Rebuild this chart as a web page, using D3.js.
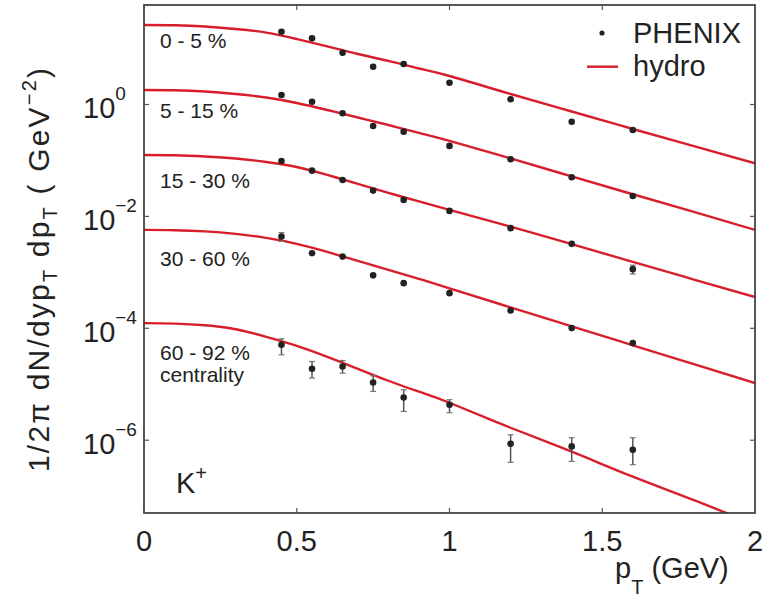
<!DOCTYPE html>
<html>
<head>
<meta charset="utf-8">
<script src="https://cdn.jsdelivr.net/npm/d3@7"></script>
<style>
  body { margin: 0; background: #fff; }
  svg { display: block; font-family: "Liberation Sans", Arial, sans-serif; }
</style>
</head>
<body>
<svg id="chart" width="773" height="597"></svg>
<script>
// K+ transverse-momentum spectra, PHENIX points vs. hydro curves (GeV units)
const ptData = [0.45, 0.55, 0.65, 0.75, 0.85, 1.0, 1.2, 1.4, 1.6];
const ptHydro = [0, 0.1, 0.2, 0.3, 0.4, 0.5, 0.6, 0.7, 0.8, 0.9, 1.0, 1.2, 1.4, 1.6, 1.8, 2.0];
const centralityLabels = ["0 - 5 %", "5 - 15 %", "15 - 30 %", "30 - 60 %", "60 - 92 %"];

// PHENIX yields per centrality class
const phenix_0_5   = [19.9, 15.2, 8.41, 4.73, 5.29, 2.45, 1.24, 0.493, 0.350];
const phenix_5_15  = [1.478, 1.122, 0.697, 0.413, 0.327, 0.182, 0.105, 0.0501, 0.0232];
const phenix_15_30 = [0.098, 0.0657, 0.0448, 0.0289, 0.0197, 0.01253, 0.00616, 0.00323, 0.00114];
const phenix_30_60 = [0.00436, 0.0022, 0.00191, 0.000884, 0.000641, 0.000425, 0.000208, 0.0001008, 0.0000544];
const phenix_60_92 = [5.07e-5, 1.89e-5, 2.08e-5, 1.076e-5, 5.81e-6, 4.30e-6, 8.66e-7, 7.75e-7, 6.77e-7];

// relative uncertainties for the central classes
const relErr_0_5   = [0.08, 0.08, 0.08, 0.1, 0.08, 0.08, 0.08, 0.1, 0.1];
const relErr_5_15  = [0.08, 0.08, 0.08, 0.1, 0.08, 0.08, 0.08, 0.1, 0.1];
const relErr_15_30 = [0.08, 0.08, 0.08, 0.1, 0.1, 0.08, 0.1, 0.1, 0.18];
const relErr_30_60 = [0.18, 0.1, 0.1, 0.12, 0.12, 0.1, 0.1, 0.1, 0.12];
// explicit error bounds for the peripheral class
const low_60_92  = [3.36e-5, 1.29e-5, 1.58e-5, 7.44e-6, 3.27e-6, 3.10e-6, 4.01e-7, 4.18e-7, 3.65e-7];
const high_60_92 = [6.49e-5, 2.55e-5, 2.66e-5, 1.418e-5, 7.97e-6, 5.29e-6, 1.253e-6, 1.108e-6, 1.108e-6];

// hydro predictions per centrality class on the ptHydro grid
const hydro_0_5   = [26.3, 26.0, 24.7, 22.3, 19.3, 14.8, 10.9, 8.0, 6.0, 4.4, 3.23, 1.54, 0.75, 0.365, 0.18, 0.089];
const hydro_5_15  = [1.815, 1.793, 1.707, 1.54, 1.334, 1.064, 0.798, 0.586, 0.43, 0.31, 0.223, 0.1086, 0.0518, 0.0249, 0.01203, 0.00574];
const hydro_15_30 = [0.1253, 0.1238, 0.1179, 0.1086, 0.094, 0.0765, 0.0551, 0.038, 0.0263, 0.01853, 0.01306, 0.00657, 0.00319, 0.00154, 0.000744, 0.000361];
const hydro_30_60 = [0.00574, 0.00567, 0.0054, 0.00487, 0.00413, 0.00323, 0.00232, 0.0016, 0.001108, 0.000766, 0.000518, 0.000237, 0.0001086, 0.0000497, 0.0000228, 0.0000105];
const hydro_60_92 = [1.238e-4, 1.213e-4, 1.131e-4, 9.6e-5, 7.05e-5, 4.87e-5, 3.1e-5, 1.89e-5, 1.155e-5, 7.35e-6, 4.67e-6, 1.67e-6, 6.23e-7, 2.23e-7, 8.49e-8, 3.1e-8];

const xTicks = [0, 0.5, 1, 1.5, 2];
const xTickLabels = ["0", "0.5", "1", "1.5", "2"];
const yTicks = [1, 1e-2, 1e-4, 1e-6];
const yTickExponents = ["0", "\u22122", "\u22124", "\u22126"];

const series = [
  { pts: phenix_0_5,   hydro: hydro_0_5,   lo: phenix_0_5.map((v, i) => v * (1 - relErr_0_5[i])),   hi: phenix_0_5.map((v, i) => v * (1 + relErr_0_5[i])) },
  { pts: phenix_5_15,  hydro: hydro_5_15,  lo: phenix_5_15.map((v, i) => v * (1 - relErr_5_15[i])),  hi: phenix_5_15.map((v, i) => v * (1 + relErr_5_15[i])) },
  { pts: phenix_15_30, hydro: hydro_15_30, lo: phenix_15_30.map((v, i) => v * (1 - relErr_15_30[i])), hi: phenix_15_30.map((v, i) => v * (1 + relErr_15_30[i])) },
  { pts: phenix_30_60, hydro: hydro_30_60, lo: phenix_30_60.map((v, i) => v * (1 - relErr_30_60[i])), hi: phenix_30_60.map((v, i) => v * (1 + relErr_30_60[i])) },
  { pts: phenix_60_92, hydro: hydro_60_92, lo: low_60_92, hi: high_60_92 }
];

const frame = { left: 144, right: 755, top: 5, bottom: 513 };
const x = d3.scaleLinear().domain([0, 2]).range([frame.left, frame.right]);
const y = d3.scaleLog().domain([5e-8, 60]).range([frame.bottom, frame.top]);

const svg = d3.select("#chart");
const ink = "#222";
const red = "#d81e2a";

svg.append("defs").append("clipPath").attr("id", "plotClip")
  .append("rect")
  .attr("x", frame.left).attr("y", frame.top)
  .attr("width", frame.right - frame.left).attr("height", frame.bottom - frame.top);

// hydro curves
const line = d3.line()
  .x((d, i) => x(ptHydro[i]))
  .y(d => y(d))
  .curve(d3.curveNatural);

const curves = svg.append("g").attr("clip-path", "url(#plotClip)");
series.forEach(s => {
  curves.append("path")
    .attr("d", line(s.hydro))
    .attr("fill", "none")
    .attr("stroke", red)
    .attr("stroke-width", 2.4);
});

// data points with error bars
const pts = svg.append("g").attr("clip-path", "url(#plotClip)");
series.forEach(s => {
  s.pts.forEach((v, i) => {
    const cx = x(ptData[i]);
    const y0 = y(s.hi[i]), y1 = y(s.lo[i]);
    if (y1 - y0 > 7) {
      pts.append("line").attr("x1", cx).attr("x2", cx).attr("y1", y0).attr("y2", y1)
        .attr("stroke", "#555").attr("stroke-width", 1.5);
      [y0, y1].forEach(yy => pts.append("line")
        .attr("x1", cx - 3).attr("x2", cx + 3).attr("y1", yy).attr("y2", yy)
        .attr("stroke", "#777").attr("stroke-width", 1.2));
    }
    pts.append("circle").attr("cx", cx).attr("cy", y(v)).attr("r", 3.3).attr("fill", ink);
  });
});

// frame with inward ticks on all sides
svg.append("rect")
  .attr("x", frame.left).attr("y", frame.top)
  .attr("width", frame.right - frame.left).attr("height", frame.bottom - frame.top)
  .attr("fill", "none").attr("stroke", "#3a3a3a").attr("stroke-width", 1.7);

const tickLen = 5;
const tickG = svg.append("g").attr("stroke", "#555").attr("stroke-width", 1.2);
xTicks.forEach(t => {
  tickG.append("line").attr("x1", x(t)).attr("x2", x(t)).attr("y1", frame.bottom).attr("y2", frame.bottom - tickLen);
  tickG.append("line").attr("x1", x(t)).attr("x2", x(t)).attr("y1", frame.top).attr("y2", frame.top + tickLen);
});
yTicks.forEach(t => {
  tickG.append("line").attr("x1", frame.left).attr("x2", frame.left + tickLen).attr("y1", y(t)).attr("y2", y(t));
  tickG.append("line").attr("x1", frame.right).attr("x2", frame.right - tickLen).attr("y1", y(t)).attr("y2", y(t));
});

// x tick labels
svg.append("g").selectAll("text").data(xTicks).join("text")
  .attr("x", d => x(d)).attr("y", 551)
  .attr("text-anchor", "middle")
  .attr("font-size", 29).attr("fill", ink)
  .text((d, i) => xTickLabels[i]);

// y tick labels as powers of ten
yTicks.forEach((t, i) => {
  const g = svg.append("text").attr("x", 83).attr("y", y(t) + 13.5).attr("font-size", 29).attr("fill", ink);
  g.append("tspan").text("10");
  g.append("tspan").attr("dy", -18).attr("font-size", 19).text(yTickExponents[i]);
});

// axis titles
const xt = svg.append("text").attr("x", 615).attr("y", 578).attr("font-size", 29).attr("fill", ink);
xt.append("tspan").text("p");
xt.append("tspan").attr("dy", 16).attr("font-size", 20).text("T");
xt.append("tspan").attr("dy", -16).text(" (GeV)");

const yt = svg.append("text")
  .attr("transform", "translate(49,270) rotate(-90)")
  .attr("text-anchor", "middle")
  .attr("font-size", 30).attr("fill", ink)
  .attr("textLength", 404).attr("lengthAdjust", "spacing");
yt.append("tspan").text("1/2\u03c0 dN/dyp");
yt.append("tspan").attr("dy", 8).attr("font-size", 20).text("T");
yt.append("tspan").attr("dy", -8).text(" dp");
yt.append("tspan").attr("dy", 8).attr("font-size", 20).text("T");
yt.append("tspan").attr("dy", -8).text(" ( GeV");
yt.append("tspan").attr("dy", -13).attr("font-size", 20).text("\u22122");
yt.append("tspan").attr("dy", 13).text(")");

// centrality labels
const labelBaselines = [48, 118, 188, 266, 360];
centralityLabels.forEach((c, i) => {
  svg.append("text").attr("x", 160).attr("y", labelBaselines[i])
    .attr("font-size", 21).attr("fill", ink).text(c);
});
svg.append("text").attr("x", 160).attr("y", 382).attr("font-size", 21).attr("fill", ink).text("centrality");

// particle species
const k = svg.append("text").attr("x", 176).attr("y", 493).attr("font-size", 29).attr("fill", ink);
k.append("tspan").text("K");
k.append("tspan").attr("dy", -13).attr("font-size", 20).text("+");

// legend
svg.append("circle").attr("cx", 602).attr("cy", 33).attr("r", 2.6).attr("fill", ink);
svg.append("text").attr("x", 633).attr("y", 43).attr("font-size", 29).attr("fill", ink).text("PHENIX");
svg.append("line").attr("x1", 587).attr("x2", 618).attr("y1", 66.7).attr("y2", 66.7)
  .attr("stroke", red).attr("stroke-width", 2.4);
svg.append("text").attr("x", 633).attr("y", 76).attr("font-size", 29).attr("fill", ink).text("hydro");
</script>
</body>
</html>
